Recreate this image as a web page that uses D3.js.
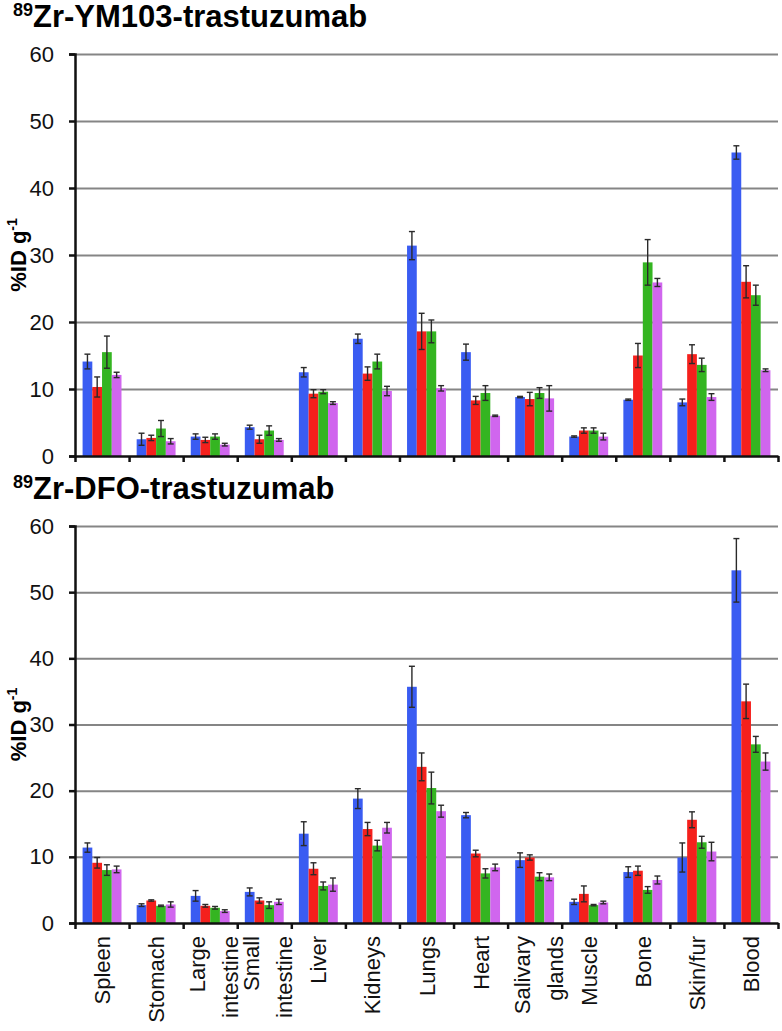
<!DOCTYPE html>
<html>
<head>
<meta charset="utf-8">
<script src="https://cdn.jsdelivr.net/npm/d3@7"></script>
<style>
  body { margin: 0; background: #fff; }
  svg { display: block; font-family: "Liberation Sans", Arial, sans-serif; }
</style>
</head>
<body>
<div id="chart"></div>
<script>
// organ categories (x axis), split into lines for the rotated labels
const categories = ["Spleen", "Stomach", "Large intestine", "Small intestine", "Liver", "Kidneys",
  "Lungs", "Heart", "Salivary glands", "Muscle", "Bone", "Skin/fur", "Blood"];
const categoryLines = [["Spleen"], ["Stomach"], ["Large", "intestine"], ["Small", "intestine"], ["Liver"],
  ["Kidneys"], ["Lungs"], ["Heart"], ["Salivary", "glands"], ["Muscle"], ["Bone"], ["Skin/fur"], ["Blood"]];
const seriesKeys = ["s1", "s2", "s3", "s4"];
const yTicks = [0, 10, 20, 30, 40, 50, 60];

// 89Zr-YM103-trastuzumab (%ID/g, mean and error)
const ym103Mean = {
  s1: [14.1, 2.5, 2.9, 4.3, 12.5, 17.5, 31.4, 15.5, 8.8, 2.9, 8.4, 8.0, 45.3],
  s2: [10.3, 2.7, 2.4, 2.5, 9.3, 12.3, 18.6, 8.3, 8.5, 3.8, 15.0, 15.2, 26.0],
  s3: [15.5, 4.1, 2.9, 3.8, 9.6, 14.1, 18.6, 9.4, 9.4, 3.8, 28.9, 13.6, 24.0],
  s4: [12.1, 2.2, 1.7, 2.4, 7.9, 9.7, 10.1, 6.0, 8.6, 2.9, 25.9, 8.8, 12.8]
};
const ym103Err = {
  s1: [1.1, 0.9, 0.4, 0.3, 0.7, 0.7, 2.1, 1.2, 0.1, 0.1, 0.1, 0.5, 1.0],
  s2: [1.5, 0.4, 0.4, 0.6, 0.6, 1.0, 2.7, 0.6, 1.0, 0.4, 1.8, 1.4, 2.4],
  s3: [2.4, 1.2, 0.4, 0.7, 0.3, 1.1, 1.7, 1.1, 0.8, 0.4, 3.4, 1.0, 1.5],
  s4: [0.4, 0.4, 0.2, 0.2, 0.2, 0.7, 0.4, 0.1, 1.9, 0.5, 0.6, 0.5, 0.2]
};

// 89Zr-DFO-trastuzumab
const dfoMean = {
  s1: [11.4, 2.7, 4.1, 4.7, 13.5, 18.8, 35.7, 16.3, 9.5, 3.2, 7.7, 9.9, 53.3],
  s2: [9.1, 3.4, 2.6, 3.4, 8.2, 14.2, 23.6, 10.5, 9.9, 4.4, 7.9, 15.6, 33.5],
  s3: [8.0, 2.6, 2.3, 2.7, 5.6, 11.7, 20.4, 7.5, 7.0, 2.7, 5.0, 12.2, 27.0],
  s4: [8.1, 2.8, 1.8, 3.2, 5.8, 14.4, 16.9, 8.4, 6.9, 3.1, 6.5, 10.8, 24.4]
};
const dfoErr = {
  s1: [0.7, 0.2, 0.8, 0.6, 1.8, 1.5, 3.1, 0.4, 1.1, 0.4, 0.8, 2.2, 4.8],
  s2: [0.8, 0.1, 0.2, 0.4, 0.9, 1.0, 2.1, 0.5, 0.4, 1.2, 0.7, 1.2, 2.6],
  s3: [0.8, 0.1, 0.2, 0.5, 0.6, 0.8, 2.4, 0.7, 0.6, 0.1, 0.5, 0.9, 1.2],
  s4: [0.5, 0.4, 0.2, 0.4, 1.0, 0.8, 0.9, 0.5, 0.5, 0.2, 0.6, 1.4, 1.3]
};

const colors = { s1: "#3a5cf2", s2: "#f5201c", s3: "#34b521", s4: "#d066ee" };

const W = 782, H = 1031;
const left = 75, right = 778;

const svg = d3.select("#chart").append("svg")
  .attr("width", W)
  .attr("height", H);

const x0 = d3.scaleBand().domain(categories).range([left, right]).padding(0);
const x1 = d3.scaleBand().domain(seriesKeys).range([0, x0.bandwidth()]).paddingOuter(0.78);
const xEdges = d3.scaleLinear().domain([0, categories.length]).range([left, right]);

function drawPanel(opts) {
  const { title, top, bottom, mean, err } = opts;
  const y = d3.scaleLinear().domain([0, 60]).range([bottom, top]);
  const g = svg.append("g");

  // title with superscript mass number
  const t = g.append("text")
    .attr("x", 13)
    .attr("y", top - 27)
    .attr("font-weight", "bold");
  t.append("tspan").attr("font-size", 18).attr("dy", -11).text("89");
  t.append("tspan").attr("font-size", 31).attr("dy", 11).text(title);

  // grid lines
  g.append("g")
    .attr("transform", `translate(${left},0)`)
    .call(d3.axisLeft(y).tickValues(yTicks.slice(1)).tickSize(-(right - left)).tickFormat(""))
    .call(s => s.select(".domain").remove())
    .selectAll("line")
    .attr("stroke", "#858585")
    .attr("stroke-width", 2);

  // bars
  seriesKeys.forEach(k => {
    const rows = categories.map((c, i) => ({ c, v: mean[k][i], e: err[k][i] }));
    const sg = g.append("g");
    sg.selectAll("rect").data(rows).join("rect")
      .attr("x", d => x0(d.c) + x1(k))
      .attr("y", d => y(d.v))
      .attr("width", x1.bandwidth())
      .attr("height", d => y(0) - y(d.v))
      .attr("fill", colors[k]);

    // error bars
    const eb = sg.selectAll("g.err").data(rows).join("g")
      .attr("class", "err")
      .attr("stroke", "#2a2a2a")
      .attr("stroke-width", 1.4);
    const cx = d => x0(d.c) + x1(k) + x1.bandwidth() / 2;
    eb.append("line")
      .attr("x1", cx).attr("x2", cx)
      .attr("y1", d => y(d.v + d.e)).attr("y2", d => y(d.v - d.e));
    eb.append("line")
      .attr("x1", d => cx(d) - 3).attr("x2", d => cx(d) + 3)
      .attr("y1", d => y(d.v + d.e)).attr("y2", d => y(d.v + d.e));
    eb.append("line")
      .attr("x1", d => cx(d) - 3).attr("x2", d => cx(d) + 3)
      .attr("y1", d => y(d.v - d.e)).attr("y2", d => y(d.v - d.e));
  });

  // y axis
  g.append("g")
    .attr("transform", `translate(${left},0)`)
    .call(d3.axisLeft(y).tickValues(yTicks).tickSize(6).tickPadding(15))
    .call(s => s.selectAll("line, path").attr("stroke", "#111").attr("stroke-width", 2.5))
    .selectAll("text")
    .attr("font-size", 22)
    .attr("fill", "#111");

  // x axis with ticks between categories
  g.append("g")
    .attr("transform", `translate(0,${bottom})`)
    .call(d3.axisBottom(xEdges).ticks(categories.length).tickSize(6).tickSizeOuter(0).tickFormat(""))
    .selectAll("line, path")
    .attr("stroke", "#111")
    .attr("stroke-width", 2.5);

  // y axis title
  const yl = g.append("text")
    .attr("transform", `translate(26,${(top + bottom) / 2}) rotate(-90)`)
    .attr("text-anchor", "middle")
    .attr("font-weight", "bold")
    .attr("font-size", 22);
  yl.append("tspan").text("%ID g");
  yl.append("tspan").attr("font-size", 14).attr("dy", -9).text("-1");
}

drawPanel({ title: "Zr-YM103-trastuzumab", top: 54, bottom: 456, mean: ym103Mean, err: ym103Err });
drawPanel({ title: "Zr-DFO-trastuzumab", top: 526, bottom: 923, mean: dfoMean, err: dfoErr });

// rotated category labels under the lower panel
const labels = svg.append("g").attr("font-size", 22).attr("fill", "#111");
categories.forEach((c, i) => {
  const lines = categoryLines[i];
  const cx = x0(c) + x0.bandwidth() / 2;
  lines.forEach((ln, j) => {
    const bx = lines.length === 1 ? cx + 8 : cx - 5 + j * 33;
    labels.append("text")
      .attr("transform", `translate(${bx},936) rotate(-90)`)
      .attr("text-anchor", "end")
      .text(ln);
  });
});
</script>
</body>
</html>
